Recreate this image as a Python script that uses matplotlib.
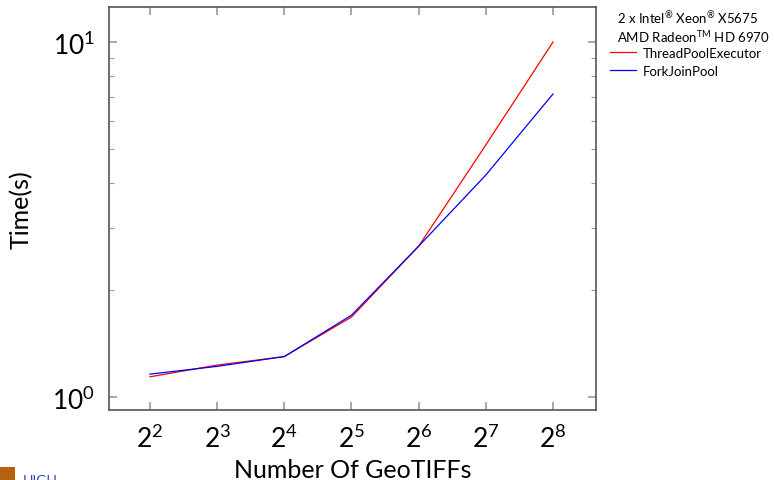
import matplotlib
matplotlib.use('Agg')
import matplotlib.pyplot as plt
from matplotlib.patches import Rectangle
from matplotlib.ticker import FixedLocator, NullFormatter, LogLocator

plt.rcParams['font.family'] = ['Lato', 'DejaVu Sans']
plt.rcParams['mathtext.fontset'] = 'custom'
plt.rcParams['mathtext.rm'] = 'Lato'

geotiffs = [4, 8, 16, 32, 64, 128, 256]
thread_pool = [1.14, 1.23, 1.30, 1.68, 2.66, 5.13, 10.0]
fork_join = [1.16, 1.22, 1.30, 1.70, 2.66, 4.22, 7.14]
x_tick_labels = ['$2^{%d}$' % k for k in range(2, 9)]

fig = plt.figure(figsize=(7.74, 4.81), dpi=100)
ax = fig.add_axes([0.1408, 0.1455, 0.6292, 0.8378])

ax.plot(geotiffs, thread_pool, color='#ff0000', linewidth=0.9, label='ThreadPoolExecutor')
ax.plot(geotiffs, fork_join, color='#0000ff', linewidth=0.9, label='ForkJoinPool')

ax.set_xscale('log', base=2)
ax.set_yscale('log')
ax.set_xlim(2 ** 1.39, 2 ** 8.64)
ax.set_ylim(10 ** -0.0366, 10 ** 1.0986)

ax.xaxis.set_major_locator(FixedLocator(geotiffs))
ax.set_xticklabels(x_tick_labels)
ax.xaxis.set_minor_locator(FixedLocator([]))
ax.yaxis.set_major_locator(FixedLocator([1, 10]))
ax.set_yticklabels(['$10^{0}$', '$10^{1}$'])
ax.yaxis.set_minor_locator(LogLocator(base=10, subs=range(2, 10)))
ax.yaxis.set_minor_formatter(NullFormatter())

ax.tick_params(which='both', direction='in', top=True, right=True, color='#999999')
ax.tick_params(which='major', length=6, width=1.2, labelsize=19, pad=10)
ax.tick_params(which='minor', length=3.5, width=0.8)
for s in ax.spines.values():
    s.set_color('#555555')
    s.set_linewidth(1.2)

ax.set_xlabel('Number Of GeoTIFFs', fontsize=18, labelpad=4)
ax.set_ylabel('Time(s)', fontsize=18, labelpad=14)

fig.text(0.797, 0.963, r'2 x Intel$^{\circledR}$ Xeon$^{\circledR}$ X5675', fontsize=9.5, va='center')
fig.text(0.797, 0.924, r'AMD Radeon$^{\mathrm{TM}}$ HD 6970', fontsize=9.5, va='center')
fig.legend(loc='upper left', bbox_to_anchor=(0.781, 0.912), frameon=False,
           fontsize=9.5, handlelength=2.0, handletextpad=0.5, labelspacing=0.45,
           borderaxespad=0)

# beamer footer fragment at the bottom edge
fig.patches.append(Rectangle((0, 0), 0.019, 0.028, transform=fig.transFigure,
                             facecolor='#b5610f', edgecolor='none'))
fig.text(0.029, -0.012, 'HIGH', fontsize=10, color='#3344aa', va='bottom')

fig.savefig('out.png', dpi=100)
